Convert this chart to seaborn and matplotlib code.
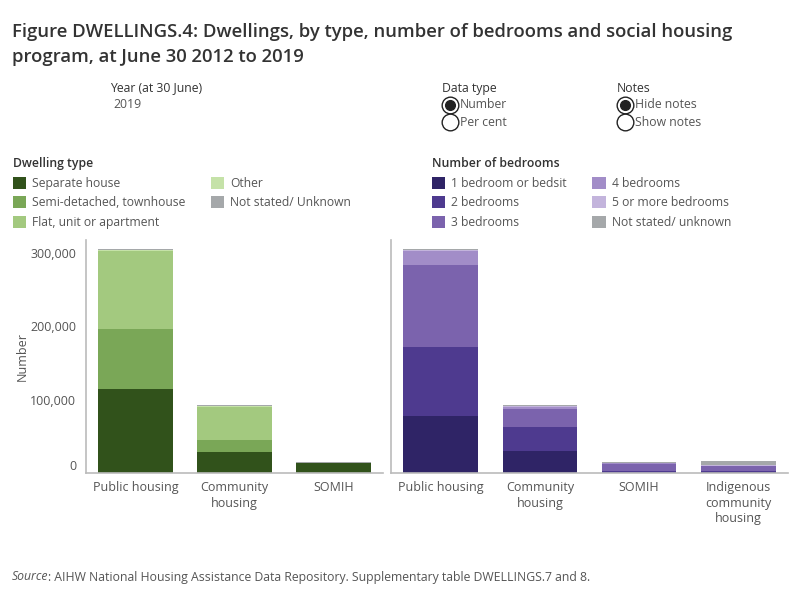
import numpy as np
import pandas as pd
import matplotlib.pyplot as plt
import seaborn as sns
from matplotlib.lines import Line2D
from matplotlib.patches import Patch

# Dwelling type by social housing program (2019)
programs_left = ["Public housing", "Community\nhousing", "SOMIH"]
dwelling_types = ["Separate house", "Semi-detached, townhouse", "Flat, unit or apartment",
                  "Other", "Not stated/ Unknown"]
separate_house = [115000, 28500, 13000]
semi_detached = [81500, 16500, 200]
flat_unit = [107000, 45500, 100]
other_type = [1200, 1000, 100]
type_not_stated = [800, 900, 1200]
dwelling_colors = ["#31521B", "#7AA757", "#A3C97F", "#C5E2A8", "#A5A8AA"]

# Number of bedrooms by social housing program (2019)
programs_right = ["Public housing", "Community\nhousing", "SOMIH", "Indigenous\ncommunity\nhousing"]
bedroom_types = ["1 bedroom or bedsit", "2 bedrooms", "3 bedrooms", "4 bedrooms",
                 "5 or more bedrooms", "Not stated/ unknown"]
bed_1 = [78000, 30000, 600, 1000]
bed_2 = [94000, 32800, 2100, 1700]
bed_3 = [112000, 24500, 10000, 6400]
bed_4 = [19000, 3200, 1200, 1000]
bed_5 = [1800, 1400, 200, 800]
bed_not_stated = [500, 800, 500, 5500]
bedroom_colors = ["#2F2466", "#4E3A8F", "#7B63AD", "#A28DC8", "#C3B4DC", "#A5A8AA"]

y_ticks = [0, 100000, 200000, 300000]

TEXT = "#555555"
AXIS = "#BBBBBB"


def long_table(programs, levels, series):
    rows = []
    for level, values in zip(levels, series):
        for prog, v in zip(programs, values):
            rows.append({"program": prog, "level": level, "value": v})
    df = pd.DataFrame(rows)
    df["level"] = pd.Categorical(df["level"], levels, ordered=True)
    df = df.sort_values(["program", "level"])
    df["cum"] = df.groupby("program")["value"].cumsum()
    return df


def stacked(ax, df, programs, levels, colors):
    # draw cumulative totals from the top layer down so each layer shows its own slice
    for level, color in reversed(list(zip(levels, colors))):
        sub = df[df["level"] == level]
        sns.barplot(data=sub, x="program", y="cum", order=programs, color=color,
                    width=0.75, saturation=1, ax=ax, linewidth=0, errorbar=None)
    n = len(programs)
    ax.set_xlim(-0.5, n - 0.5)
    ax.set_ylim(0, 318000)
    ax.set_xlabel("")
    ax.set_ylabel("")
    for s in ["top", "right"]:
        ax.spines[s].set_visible(False)
    for s in ["left", "bottom"]:
        ax.spines[s].set_color(AXIS)
        ax.spines[s].set_linewidth(1.2)
    ax.set_xticks(range(n))
    ax.set_xticklabels(programs, color=TEXT, fontsize=9, linespacing=1.25)
    ax.set_xticks(np.arange(n + 1) - 0.5, minor=True)
    ax.tick_params(axis="x", which="major", length=0, pad=6)
    ax.tick_params(axis="x", which="minor", length=5, color=AXIS, width=1.2)


sns.set_style("white")
plt.rcParams["font.family"] = ["Open Sans", "DejaVu Sans"]

fig = plt.figure(figsize=(8, 6), dpi=100)

ax1 = fig.add_axes([86 / 800, 1 - 473 / 600, 297 / 800, 233 / 600])
ax2 = fig.add_axes([391 / 800, 1 - 473 / 600, 397 / 800, 233 / 600])

df_left = long_table(programs_left, dwelling_types,
                     [separate_house, semi_detached, flat_unit, other_type, type_not_stated])
df_right = long_table(programs_right, bedroom_types,
                      [bed_1, bed_2, bed_3, bed_4, bed_5, bed_not_stated])

stacked(ax1, df_left, programs_left, dwelling_types, dwelling_colors)
stacked(ax2, df_right, programs_right, bedroom_types, bedroom_colors)

ax1.set_yticks(y_ticks)
ax1.set_yticklabels([f"{v:,}" for v in y_ticks], color=TEXT, fontsize=9)
ax1.get_yticklabels()[0].set_va("bottom")
ax1.tick_params(axis="y", length=4, color=AXIS, width=1.2, pad=3)
ax1.set_ylabel("Number", color=TEXT, fontsize=9)
ax1.yaxis.set_label_coords((29 - 86) / 297, 0.5)
ax2.set_yticks([])

# Title
fig.text(12 / 800, 1 - 32 / 600,
         "Figure DWELLINGS.4: Dwellings, by type, number of bedrooms and social housing",
         fontsize=13.3, color="#333333", va="center", fontweight="semibold")
fig.text(12 / 800, 1 - 57 / 600, "program, at June 30 2012 to 2019",
         fontsize=13.3, color="#333333", va="center", fontweight="semibold")

# Filter / parameter controls
fig.text(110 / 800, 1 - 88 / 600, "Year (at 30 June)", fontsize=8.8, color="#333333", va="center")
fig.text(113 / 800, 1 - 104 / 600, "2019", fontsize=8.8, color=TEXT, va="center")
for x0, head, opts in [(442, "Data type", ["Number", "Per cent"]),
                       (617, "Notes", ["Hide notes", "Show notes"])]:
    fig.text(x0 / 800, 1 - 88 / 600, head, fontsize=8.8, color="#333333", va="center")
    for i, opt in enumerate(opts):
        yy = 1 - (105 + 17 * i) / 600
        fig.add_artist(Line2D([(x0 + 8) / 800], [yy], marker="o", markersize=12,
                              markerfacecolor="white", markeredgecolor="#222222",
                              markeredgewidth=1, transform=fig.transFigure))
        if i == 0:
            fig.add_artist(Line2D([(x0 + 8) / 800], [yy], marker="o", markersize=7,
                                  markerfacecolor="#222222", markeredgecolor="#222222",
                                  transform=fig.transFigure))
        fig.text((x0 + 18) / 800, yy, opt, fontsize=8.8, color=TEXT, va="center")

# Legends
for x0, title, labels, colors in [(13, "Dwelling type", dwelling_types, dwelling_colors),
                                  (432, "Number of bedrooms", bedroom_types, bedroom_colors)]:
    handles = [Patch(facecolor=c, edgecolor="none") for c in colors]
    leg = fig.legend(handles, labels, loc="upper left", bbox_to_anchor=(x0 / 800, 1 - 157 / 600),
                     ncol=2, frameon=False, fontsize=8.7, handlelength=1.1, handleheight=1.15,
                     handletextpad=0.5, columnspacing=2.1, labelspacing=0.54, borderpad=0,
                     borderaxespad=0, alignment="left", title=title,
                     title_fontproperties={"size": 8.8, "weight": "semibold"})
    for t in leg.get_texts():
        t.set_color(TEXT)
    leg.get_title().set_color("#333333")

# Source
src = fig.text(12 / 800, 1 - 577 / 600, "Source", fontsize=8.8, style="italic", color=TEXT, va="center")
ax1.annotate(": AIHW National Housing Assistance Data Repository. Supplementary table DWELLINGS.7 and 8.",
             xy=(1, 0.5), xycoords=src, va="center", fontsize=8.8, color=TEXT)

fig.savefig("out.png", dpi=100)
